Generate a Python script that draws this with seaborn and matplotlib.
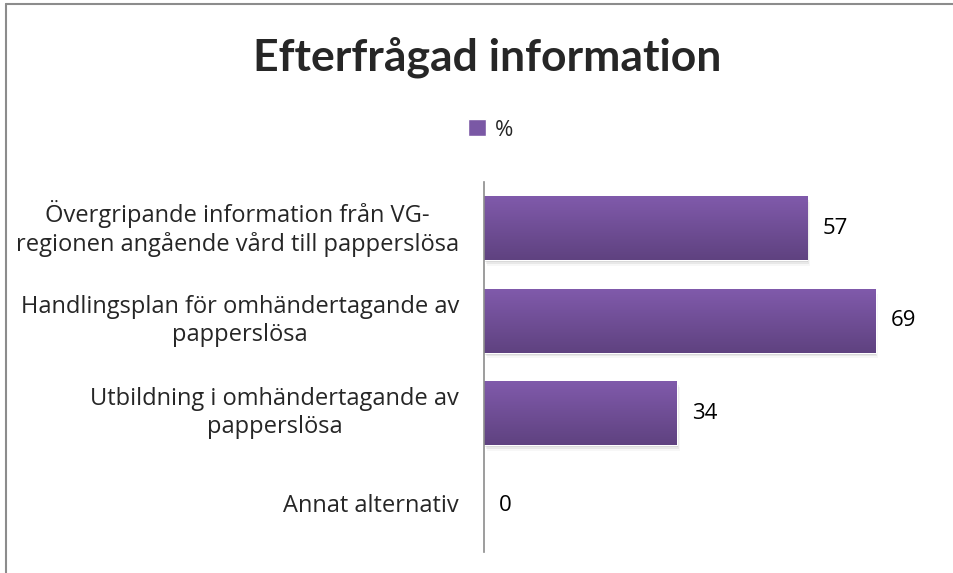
import seaborn as sns
import matplotlib.pyplot as plt
import matplotlib.transforms as mtransforms
import numpy as np
import pandas as pd
from matplotlib.colors import LinearSegmentedColormap
from matplotlib.patches import Rectangle

# data
categories = ['Övergripande information från VG-\nregionen angående vård till papperslösa',
              'Handlingsplan för omhändertagande av\npapperslösa',
              'Utbildning i omhändertagande av\npapperslösa',
              'Annat alternativ']
values = [57, 69, 34, 0]
series_name = '%'

df = pd.DataFrame({'kategori': categories, 'varde': values})

sns.set_style('white')
plt.rcParams['font.family'] = ['Lato', 'DejaVu Sans']

fig = plt.figure(figsize=(9.54, 5.73), dpi=100)
ax = fig.add_axes([484 / 954, 1 - 552 / 573, (938 - 484) / 954, (552 - 182) / 573])

sns.barplot(data=df, y='kategori', x='varde', color='#7a58a5', width=0.69,
            ax=ax, label=series_name, saturation=1)

# gradient fill + soft shadow for each bar
grad = LinearSegmentedColormap.from_list('lila', ['#805aab', '#5f4280'])
for p in list(ax.patches):
    x0, y0 = p.get_x(), p.get_y()
    w, h = p.get_width(), p.get_height()
    if w <= 0:
        continue
    for k, a in enumerate([0.10, 0.06, 0.03]):
        ax.add_patch(Rectangle((x0 + 0.15 * (k + 1), y0 + 0.02 * (k + 1)), w, h, color='#000000',
                               alpha=a, zorder=p.get_zorder() - 0.5, lw=0))
    img = ax.imshow(np.linspace(0, 1, 100).reshape(-1, 1), cmap=grad, aspect='auto',
                    extent=[x0, x0 + w, y0 + h, y0], zorder=p.get_zorder() + 0.1)
    img.set_clip_path(p)

for i, v in enumerate(values):
    ax.text(v + 2.7, i, str(v), va='center', ha='left', fontsize=16, color='black',
            family=['Open Sans', 'DejaVu Sans'])

ax.set_xlim(0, 80)
ax.set_ylim(3.5, -0.5)
ax.set_xlabel('')
ax.set_ylabel('')
ax.set_xticks([])
ax.set_yticks(range(len(categories)))
ax.set_yticklabels([])
ax.tick_params(axis='y', length=0)
for s in ['top', 'right', 'bottom']:
    ax.spines[s].set_visible(False)
ax.spines['left'].set_color('#8c8c8c')
ax.spines['left'].set_linewidth(1.2)

# category labels: right-aligned block, lines centred
lbl_tr = mtransforms.blended_transform_factory(fig.transFigure, ax.transData)
for i, c in enumerate(categories):
    fig.text(459 / 954, i, c, transform=lbl_tr, ha='right', va='center',
             multialignment='center', fontsize=17, linespacing=1.2,
             family=['Open Sans', 'DejaVu Sans'])

fig.text(487 / 954, 1 - 57 / 573, 'Efterfrågad information', ha='center', va='center',
         fontsize=32, fontweight='bold')

leg = ax.legend(loc='center', bbox_to_anchor=(491 / 954, 1 - 130 / 573),
                bbox_transform=fig.transFigure, frameon=False,
                prop={'family': ['Open Sans', 'DejaVu Sans'], 'size': 16},
                handlelength=0.8, handleheight=0.8, handletextpad=0.4)

# chart frame (left/top edges visible)
fig.add_artist(plt.Line2D([6.5 / 954, 6.5 / 954], [0, 1 - 4 / 573], transform=fig.transFigure,
                          color='#8c8c8c', lw=1.5))
fig.add_artist(plt.Line2D([6.5 / 954, 1], [1 - 4 / 573, 1 - 4 / 573], transform=fig.transFigure,
                          color='#8c8c8c', lw=1.5))

fig.savefig('out.png', dpi=100)
